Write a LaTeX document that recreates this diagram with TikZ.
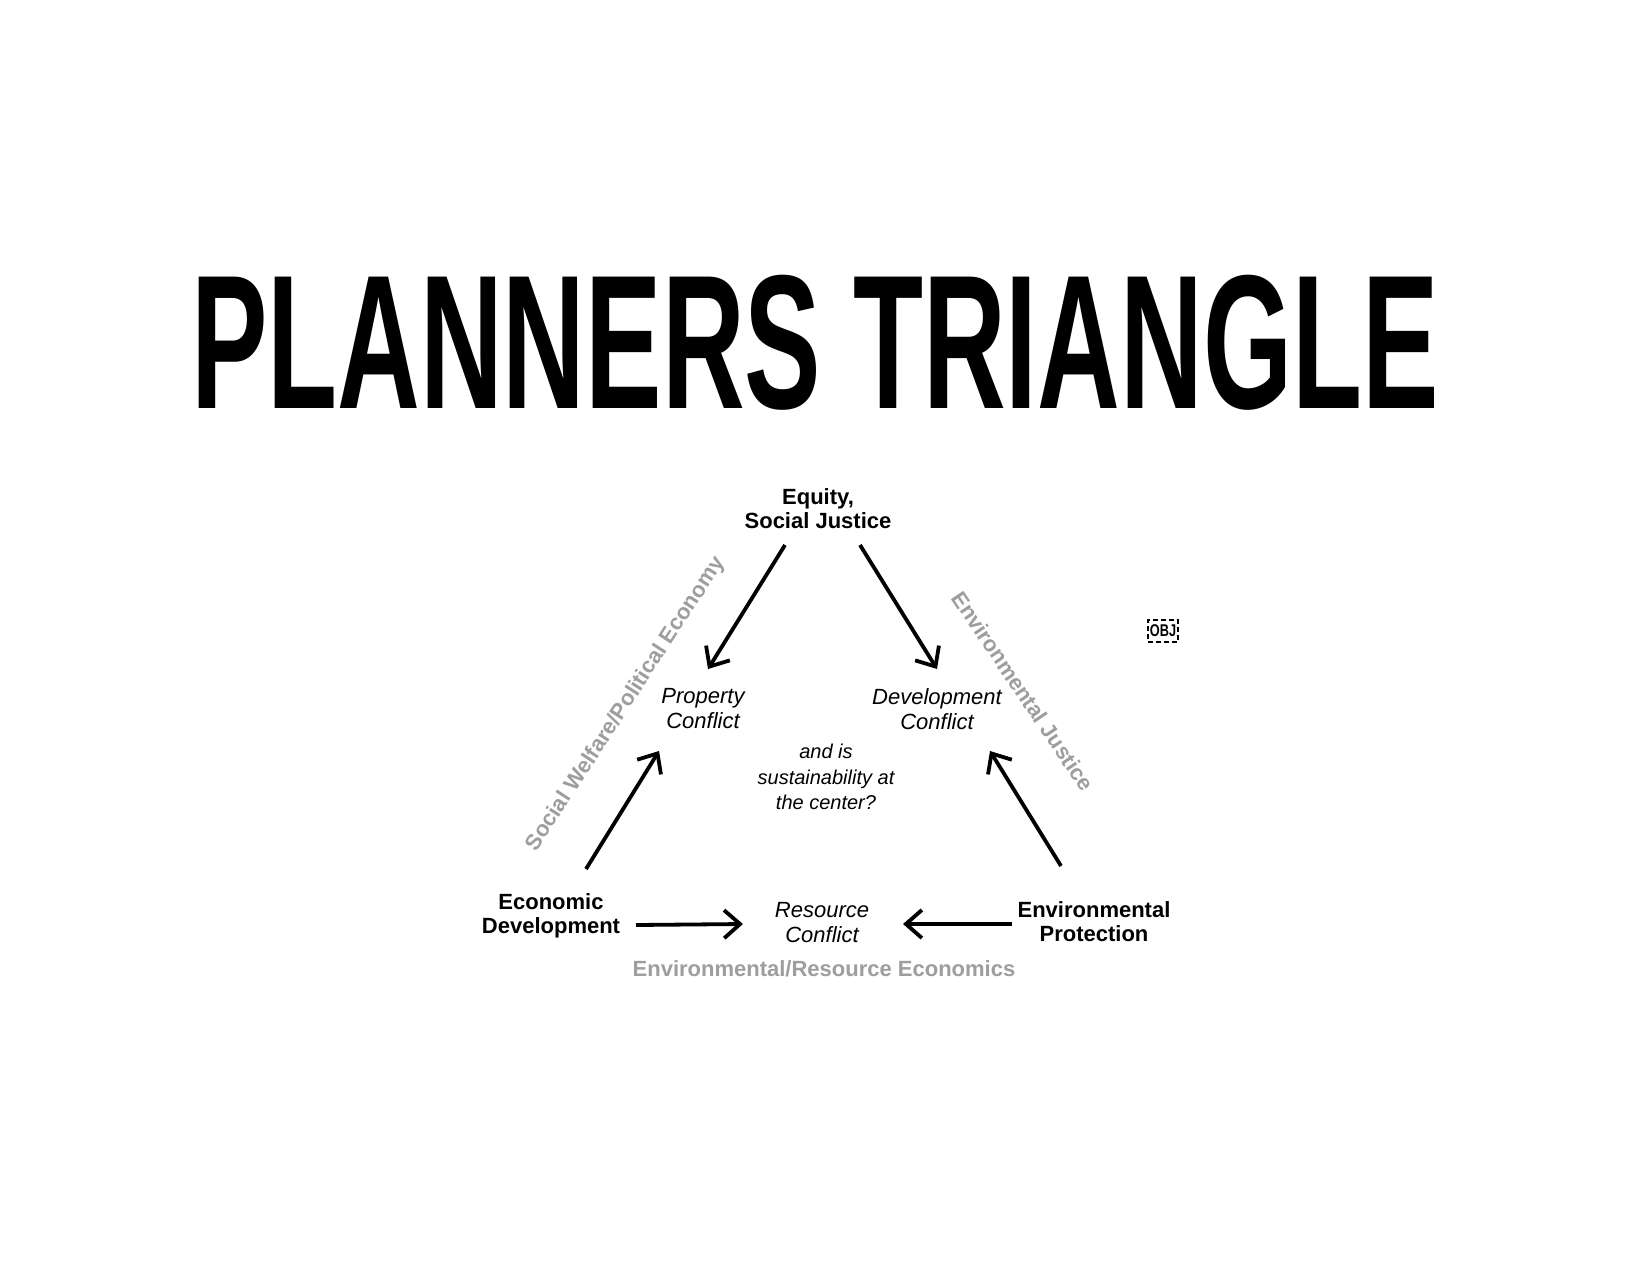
\documentclass[tikz,border=0pt]{standalone}
\usepackage{fontspec}
\setmainfont{Liberation Sans}
\newfontfamily\titlefont[FakeStretch=0.6]{Liberation Sans Bold}
\newfontfamily\objfont[FakeStretch=0.75]{Liberation Sans Bold}
\usetikzlibrary{arrows.meta}
\definecolor{lbl}{gray}{0.62}
\tikzset{
  bold/.style={font=\fontsize{11}{12}\selectfont\bfseries, align=center, inner sep=1pt},
  ital/.style={font=\fontsize{11}{12.5}\selectfont\itshape, align=center, inner sep=1pt},
  graylbl/.style={font=\fontsize{11}{12}\selectfont\bfseries, text=lbl, inner sep=1pt},
  arr/.style={line width=1.9pt, -{Straight Barb[length=8pt,width=14pt]}},
}
\begin{document}
\begin{tikzpicture}[x=0.5pt,y=-0.5pt]
\useasboundingbox (0,0) rectangle (1650,1275);
\fill[white] (0,0) rectangle (1650,1275);
% title
\node[anchor=base, inner sep=0pt, font=\titlefont\fontsize{95.5}{100}\selectfont] (title) at (815,408) {PLANNERS TRIANGLE};
% nodes
\node[bold] (eq) at (818,509) {Equity,\\Social Justice};
\node[ital] (prop) at (703,709) {Property\\Conflict};
\node[ital] (dev) at (937,709) {Development\\Conflict};
\node[ital, font=\fontsize{10}{12.6}\selectfont\itshape] (ctr) at (826,777) {and is\\sustainability at\\the center?};
\node[bold] (econ) at (551,916) {Economic\\Development};
\node[ital] (res) at (822,923) {Resource\\Conflict};
\node[bold] (env) at (1094,922) {Environmental\\Protection};
\node[graylbl] (ere) at (824,969) {Environmental/Resource Economics};
\node[graylbl, rotate=57] (swpe) at (626,704) {Social Welfare/Political Economy};
\node[graylbl, rotate=-56] (ej) at (1023,691) {Environmental Justice};
\node[draw, dashed, dash pattern=on 2.5pt off 1.5pt, line width=0.9pt, minimum width=15pt, minimum height=11pt, inner sep=0.5pt, font=\objfont\fontsize{8.5}{8.5}\selectfont] (obj) at (1163,631) {OBJ};
% arrow end points
\coordinate (a1s) at (785,545); \coordinate (a1e) at (708,669);
\coordinate (a2s) at (860,545); \coordinate (a2e) at (937,669);
\coordinate (a3s) at (586,869); \coordinate (a3e) at (659,751);
\coordinate (a4s) at (1061,866); \coordinate (a4e) at (990,751);
\coordinate (a5s) at (636,925); \coordinate (a5e) at (743,924);
\coordinate (a6s) at (1012,924); \coordinate (a6e) at (903,924);
\draw[arr] (a1s) -- (a1e);
\draw[arr] (a2s) -- (a2e);
\draw[arr] (a3s) -- (a3e);
\draw[arr] (a4s) -- (a4e);
\draw[arr] (a5s) -- (a5e);
\draw[arr] (a6s) -- (a6e);
\end{tikzpicture}
\end{document}
